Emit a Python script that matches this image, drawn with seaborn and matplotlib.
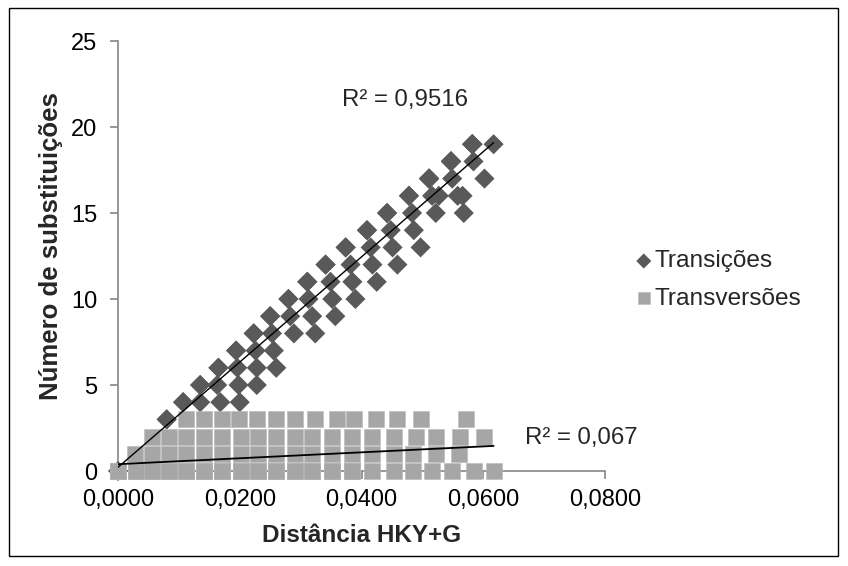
import numpy as np
import pandas as pd
import matplotlib
matplotlib.use("Agg")
import matplotlib.pyplot as plt
import seaborn as sns
from matplotlib.patches import Rectangle

sns.set_theme(style="white")
plt.rcParams['font.family'] = ['Liberation Sans', 'DejaVu Sans']

# ---------------- data ----------------
# Transições (distance HKY+G, number of substitutions), visible diamonds
trans_dist = [0.0000,
              0.0080,
              0.0107, 0.0135, 0.0168, 0.0200,
              0.0135, 0.0163, 0.0198, 0.0228,
              0.0165, 0.0196, 0.0228, 0.0260,
              0.0194, 0.0226, 0.0256,
              0.0223, 0.0253, 0.0289, 0.0324,
              0.0250, 0.0283, 0.0319, 0.0357,
              0.0280, 0.0313, 0.0352, 0.0390,
              0.0311, 0.0349, 0.0385, 0.0425,
              0.0341, 0.0382, 0.0418, 0.0459,
              0.0374, 0.0415, 0.0451, 0.0497,
              0.0409, 0.0448, 0.0486,
              0.0442, 0.0483, 0.0522, 0.0568,
              0.0478, 0.0516, 0.0527, 0.0558, 0.0566,
              0.0511, 0.0549, 0.0602,
              0.0547, 0.0584,
              0.0582, 0.0617]
trans_count = [0,
               3,
               4, 4, 4, 4,
               5, 5, 5, 5,
               6, 6, 6, 6,
               7, 7, 7,
               8, 8, 8, 8,
               9, 9, 9, 9,
               10, 10, 10, 10,
               11, 11, 11, 11,
               12, 12, 12, 12,
               13, 13, 13, 13,
               14, 14, 14,
               15, 15, 15, 15,
               16, 16, 16, 16, 16,
               17, 17, 17,
               18, 18,
               19, 19]
# overlapping (hidden) pairs that share a marker position with a visible diamond
trans_overlap_dist = [0.0080, 0.0107, 0.0135, 0.0165, 0.0194, 0.0223,
                      0.0250, 0.0280, 0.0311, 0.0341, 0.0374, 0.0409,
                      0.0442, 0.0478,
                      0.0511, 0.0511, 0.0511,
                      0.0547, 0.0547, 0.0547,
                      0.0582, 0.0582, 0.0582]
trans_overlap_count = [3, 4, 5, 6, 7, 8,
                       9, 10, 11, 12, 13, 14,
                       15, 16,
                       17, 17, 17,
                       18, 18, 18,
                       19, 19, 19]

# Transversões: visible squares per row (0, 1, 2, 3 substitutions)
trv_row0 = [0.0000, 0.0030, 0.0056, 0.0084, 0.0112, 0.0142, 0.0171, 0.0202, 0.0230, 0.0260,
            0.0290, 0.0319, 0.0351, 0.0384, 0.0418, 0.0453, 0.0484, 0.0515, 0.0548, 0.0584, 0.0617]
# overlapping (hidden) pairs with zero transversions at short distances
trv_row0_overlap = [0.0000, 0.0000, 0.0000, 0.0000, 0.0000,
                    0.0030, 0.0030, 0.0030, 0.0056, 0.0056, 0.0056, 0.0084, 0.0084, 0.0084,
                    0.0112, 0.0112, 0.0112, 0.0142, 0.0142, 0.0142, 0.0171, 0.0171, 0.0171,
                    0.0202, 0.0202, 0.0202, 0.0230, 0.0230, 0.0230, 0.0260, 0.0260, 0.0260,
                    0.0290, 0.0290, 0.0290, 0.0319, 0.0319, 0.0319, 0.0351, 0.0351, 0.0351,
                    0.0384, 0.0384, 0.0384]
trv_row1 = [0.0028, 0.0056, 0.0084, 0.0112, 0.0142, 0.0171, 0.0202, 0.0230, 0.0260,
            0.0290, 0.0319, 0.0351, 0.0384, 0.0418, 0.0453, 0.0484, 0.0522, 0.0560]
trv_row2 = [0.0056, 0.0084, 0.0112, 0.0142, 0.0171, 0.0202, 0.0230, 0.0260, 0.0290,
            0.0319, 0.0351, 0.0385, 0.0418, 0.0453, 0.0489, 0.0522, 0.0561, 0.0602]
trv_row3 = [0.0112, 0.0142, 0.0171, 0.0199, 0.0229, 0.0260, 0.0290, 0.0323, 0.0359,
            0.0388, 0.0423, 0.0458, 0.0497, 0.0571]

trv_dist = trv_row0 + trv_row0_overlap + trv_row1 + trv_row2 + trv_row3
trv_count = ([0] * len(trv_row0) + [0] * len(trv_row0_overlap) + [1] * len(trv_row1)
             + [2] * len(trv_row2) + [3] * len(trv_row3))

series_names = ["Transições", "Transversões"]
r2_labels = ["R² = 0,9516", "R² = 0,067"]
x_ticks = [0.00, 0.02, 0.04, 0.06, 0.08]
x_tick_labels = ["0,0000", "0,0200", "0,0400", "0,0600", "0,0800"]
y_ticks = [0, 5, 10, 15, 20, 25]
x_label = "Distância HKY+G"
y_label = "Número de substituições"

df_trans = pd.DataFrame({"dist": trans_dist + trans_overlap_dist,
                         "count": trans_count + trans_overlap_count})
df_trv = pd.DataFrame({"dist": trv_dist, "count": trv_count})

# ---------------- figure ----------------
W, H = 848, 566
fig = plt.figure(figsize=(W / 100, H / 100), dpi=100)
ax = fig.add_axes([118 / W, 1 - 471 / H, 487 / W, 430 / H])

dark = "#595959"
light = "#A6A6A6"
axis_col = "#868686"

sns.scatterplot(data=df_trans, x="dist", y="count", marker="D", s=105, color=dark,
                edgecolor="none", linewidth=0, ax=ax, clip_on=False, zorder=3,
                label=series_names[0])
sns.scatterplot(data=df_trv, x="dist", y="count", marker="s", s=130, color=light,
                edgecolor="#b8b8b8", linewidth=0.4, ax=ax, clip_on=False, zorder=4,
                label=series_names[1])

sns.regplot(data=df_trans, x="dist", y="count", scatter=False, ci=None, truncate=True,
            line_kws=dict(color="black", lw=1.0, zorder=5), ax=ax)
sns.regplot(data=df_trv, x="dist", y="count", scatter=False, ci=None, truncate=True,
            line_kws=dict(color="black", lw=1.3, zorder=5), ax=ax)

ax.set_xlim(0, 0.08)
ax.set_ylim(0, 25)
ax.set_xticks(x_ticks)
ax.set_xticklabels(x_tick_labels)
ax.set_yticks(y_ticks)
ax.set_xlabel(x_label, fontsize=17.5, fontweight="bold", labelpad=9)
ax.set_ylabel(y_label, fontsize=18.5, fontweight="bold")
ax.yaxis.set_label_coords(-0.112, 0.522)

for s in ["top", "right"]:
    ax.spines[s].set_visible(False)
for s in ["left", "bottom"]:
    ax.spines[s].set_color(axis_col)
    ax.spines[s].set_linewidth(1.2)
ax.tick_params(axis="both", direction="out", length=6, width=1.2, color=axis_col,
               labelsize=17, labelcolor="black")
ax.tick_params(axis="y", pad=9, left=True)
ax.tick_params(axis="x", pad=7, bottom=True)
ax.grid(False)

ax.text(0.589, 0.863, r2_labels[0], transform=ax.transAxes, fontsize=17.3,
        ha="center", va="center")
ax.text(0.951, 0.076, r2_labels[1], transform=ax.transAxes, fontsize=17.3,
        ha="center", va="center")

leg = ax.legend(loc="center left", bbox_to_anchor=(634 / W, 1 - 280 / H),
                bbox_transform=fig.transFigure, frameon=False, fontsize=17.6,
                handletextpad=0.05, handlelength=0.8, labelspacing=0.62,
                borderpad=0, borderaxespad=0, markerscale=0.75)

fig.patches.append(Rectangle((9 / W, 1 - 556 / H), 829 / W, 548 / H,
                             transform=fig.transFigure, fill=False,
                             edgecolor="black", linewidth=1.0))

fig.savefig("out.png", dpi=100, facecolor="white")
